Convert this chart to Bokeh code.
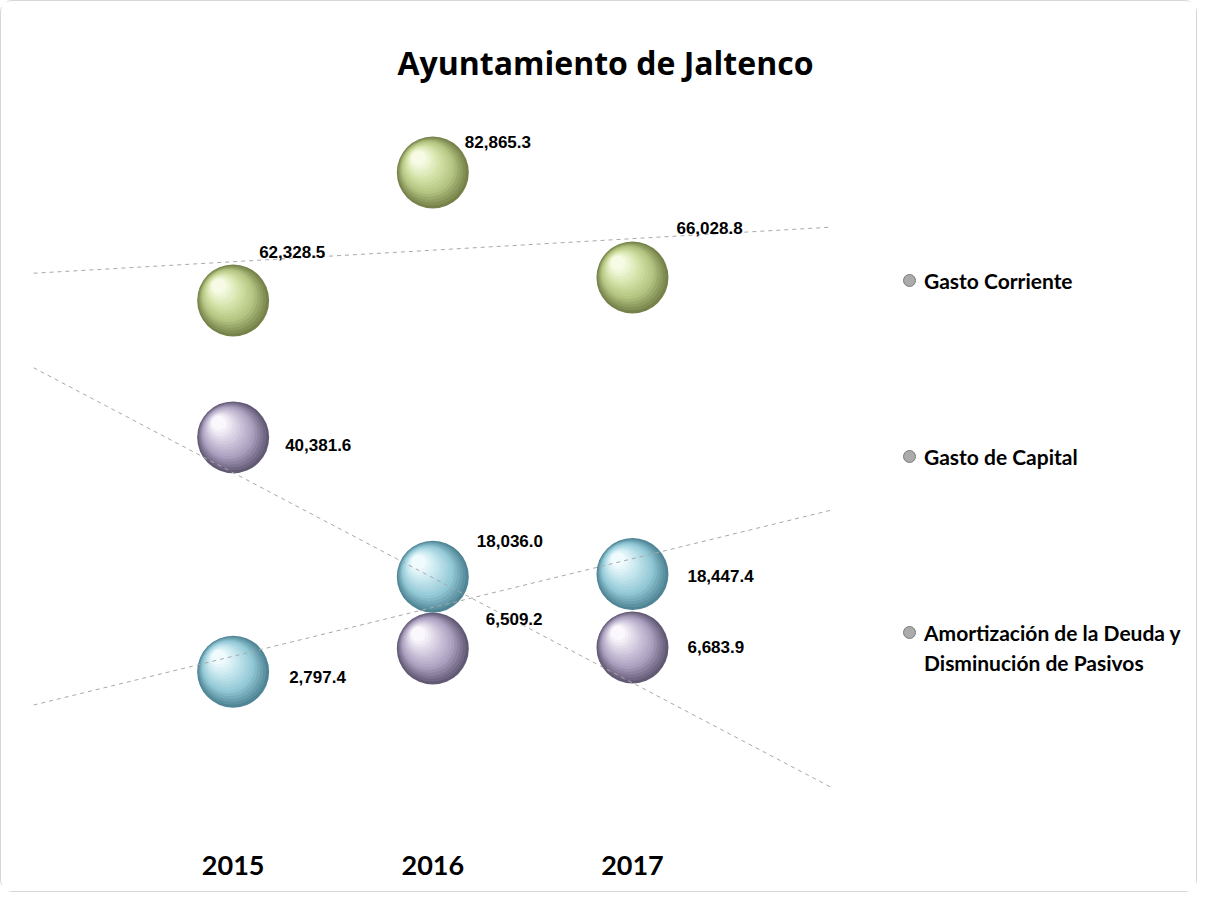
import numpy as np
from bokeh.plotting import figure
from bokeh.models import Range1d, FixedTicker, ColumnDataSource, Legend, LegendItem
from bokeh.core.properties import value
from bokeh.embed import file_html
from bokeh.resources import INLINE

# ---------------- data ----------------
TITLE = "Ayuntamiento de Jaltenco"
YEARS = [2015, 2016, 2017]
YEAR_LABELS = ["2015", "2016", "2017"]
SERIES_NAMES = ["Gasto Corriente", "Gasto de Capital",
                "Amortización de la Deuda y", "Disminución de Pasivos"]
GASTO_CORRIENTE = [62328.5, 82865.3, 66028.8]
GASTO_CAPITAL = [40381.6, 6509.2, 6683.9]
AMORTIZACION = [2797.4, 18036.0, 18447.4]

# ---------------- style / layout ----------------
W, H = 1197, 892
ML, MR, MT, MB = 32, 7, 100, 82
FW, FH = W - ML - MR, H - MT - MB
X0, X1 = 2014, 2019.8          # frame also hosts the legend on the right
TREND_X = [2014, 2018]         # extent of the original plot area
Y0, Y1 = -19634, 94257

STOPS = {
    "gc": ["#76824a", "#b4c582", "#d6e4ab", "#f7fbe6"],
    "cap": ["#625a74", "#aa9ebe", "#d2cade", "#fbf8fd"],
    "am": ["#4f8595", "#91c7d5", "#c0e4ec", "#f0fbfd"],
}
# data-label offsets in px (right, down)
LBL_OFF = {
    "gc": [(26, -49), (32, -31), (44, -49)],
    "cap": [(52, 8), (53, -30), (55, 0)],
    "am": [(56, 5), (44, -36), (55, 2)],
}
BUBBLE_D = 72
LAYERS = 16


def hex2rgb(h):
    h = h.lstrip("#")
    return [int(h[i:i + 2], 16) for i in (0, 2, 4)]


def grad(stops, t):
    n = len(stops) - 1
    k = min(int(t * n), n - 1)
    f = t * n - k
    a, b = hex2rgb(stops[k]), hex2rgb(stops[k + 1])
    c = [round(a[j] + (b[j] - a[j]) * f) for j in range(3)]
    return "#%02x%02x%02x" % tuple(c)


p = figure(width=W, height=H, x_range=Range1d(X0, X1), y_range=Range1d(Y0, Y1),
           output_backend="svg", toolbar_location=None, y_axis_location=None,
           min_border_left=ML, min_border_right=MR, min_border_top=MT,
           min_border_bottom=MB)
p.outline_line_color = None
p.grid.visible = False
p.background_fill_color = "white"
p.border_fill_color = "white"
p.styles = {"border": "1px solid #d6d6d6", "border-radius": "12px"}

# title
p.title.text = TITLE
p.title.align = "left"
p.title.offset = 364
p.title.standoff = 36
p.title.text_font = "Open Sans"
p.title.text_font_size = "32px"
p.title.text_font_style = "bold"
p.title.text_color = "#000000"

# x axis
ax = p.xaxis[0]
ax.ticker = FixedTicker(ticks=YEARS)
ax.major_label_overrides = {y: l for y, l in zip(YEARS, YEAR_LABELS)}
ax.axis_line_color = None
ax.major_tick_line_color = None
ax.minor_tick_line_color = None
ax.major_tick_out = 0
ax.major_tick_in = 0
ax.major_label_standoff = 44
ax.major_label_text_font = "Lato"
ax.major_label_text_font_size = "27px"
ax.major_label_text_font_style = "bold"
ax.major_label_text_color = "#000000"

ux = (X1 - X0) / FW
uy = (Y1 - Y0) / FH

series = [("gc", GASTO_CORRIENTE), ("cap", GASTO_CAPITAL), ("am", AMORTIZACION)]

# bubbles (layered shading)
for key, vals in series:
    for i in range(LAYERS):
        t = i / (LAYERS - 1)
        s = BUBBLE_D * (1 - 0.8 * t)
        off = 0.2 * BUBBLE_D * t
        xs = [x - off * ux for x in YEARS]
        ys = [v + off * uy for v in vals]
        p.scatter(xs, ys, size=s, fill_color=grad(STOPS[key], t), line_color=None)

# trend lines
for key, vals in series:
    m, b = np.polyfit(YEARS, vals, 1)
    p.line(TREND_X, [m * x + b for x in TREND_X], line_color="#a8a8a8",
           line_width=1, line_dash="4 4")

# data labels
for key, vals in series:
    src = ColumnDataSource(dict(
        x=YEARS, y=vals, t=[f"{v:,.1f}" for v in vals],
        xo=[o[0] for o in LBL_OFF[key]], yo=[o[1] for o in LBL_OFF[key]]))
    p.text(x="x", y="y", text="t", x_offset="xo", y_offset="yo", source=src,
           text_font=value("Liberation Sans"), text_font_style="bold",
           text_font_size="17px", text_color="#000000",
           text_align="left", text_baseline="middle")

# legend (proxy renderers: one non-drawable point each so the legend has styles)
leg_r = [p.scatter([np.nan], [np.nan], fill_color="#ababab", line_color="#7a7a7a",
                   line_width=1) for _ in range(3)]
leg_blank = p.scatter([np.nan], [np.nan], fill_alpha=0, line_alpha=0)

common = dict(orientation="vertical", glyph_width=30, glyph_height=30,
              label_standoff=-7, padding=0, margin=0, border_line_color=None,
              background_fill_alpha=0, label_text_font="Lato",
              label_text_font_style="bold", label_text_font_size="21px",
              label_height=30, label_text_color="#000000")
leg1 = Legend(items=[LegendItem(label=SERIES_NAMES[0], renderers=[leg_r[0]]),
                     LegendItem(label=SERIES_NAMES[1], renderers=[leg_r[1]])],
              location=(861, 340), spacing=146, **common)
leg2 = Legend(items=[LegendItem(label=SERIES_NAMES[2], renderers=[leg_r[2]]),
                     LegendItem(label=SERIES_NAMES[3], renderers=[leg_blank])],
              location=(861, 134), spacing=0, **common)
p.add_layout(leg1)
p.add_layout(leg2)

open("out.html", "w").write(file_html(p, INLINE))
